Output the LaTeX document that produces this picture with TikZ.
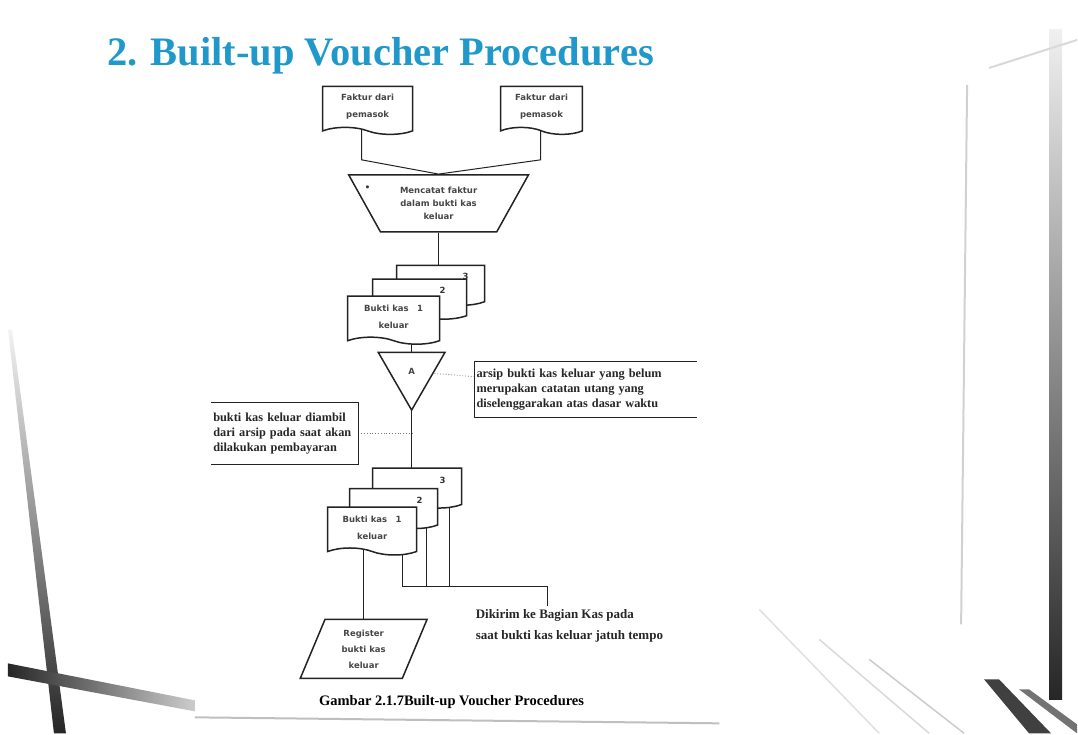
\documentclass[tikz,border=0pt]{standalone}
\usepackage{fontspec}
\setmainfont{Liberation Serif}
\newfontfamily\boxfont{DejaVu Sans}
\usetikzlibrary{positioning,calc,backgrounds,shapes.geometric,shapes.symbols}
\definecolor{vTitle}{RGB}{32,152,202}
\definecolor{vLine} {RGB}{35,35,35}
\definecolor{vNote} {RGB}{120,120,120}
\definecolor{vText} {RGB}{70,70,70}

\begin{document}
\begin{tikzpicture}[x=1pt,y=1pt]

% ---------------------------------------------------------------- styles
\tikzset{
  shp/.style     = {draw=vLine, line width=1.5pt, fill=white, align=center,
                    text=vText, inner sep=1pt,
                    font=\boxfont\bfseries\fontsize{8.5}{17}\selectfont},
  doc/.style     = {shp, tape, tape bend top=none, tape bend bottom=out and in,
                    tape bend height=7pt, minimum width=#1, minimum height=48pt},
  docb/.style    = {doc=#1, minimum height=40pt},
  manual/.style  = {shp, trapezium, shape border rotate=180,
                    trapezium left angle=58, trapezium right angle=58,
                    trapezium stretches=true,
                    minimum width=180pt, minimum height=57pt,
                    font=\boxfont\bfseries\fontsize{8.5}{13}\selectfont},
  merge/.style   = {shp, regular polygon, regular polygon sides=3,
                    shape border rotate=180, minimum size=77pt, inner sep=0pt},
  journal/.style = {shp, trapezium, trapezium left angle=70,
                    trapezium right angle=110, trapezium stretches=true,
                    minimum width=127pt, minimum height=59pt,
                    font=\boxfont\bfseries\fontsize{8.5}{16}\selectfont},
  note/.style    = {align=left, text=black!85, inner xsep=2pt, inner ysep=3pt,
                    font=\bfseries\fontsize{12.3}{15}\selectfont},
  num/.style     = {text=black!80, inner sep=0pt,
                    font=\boxfont\bfseries\fontsize{8.5}{9}\selectfont},
  line/.style    = {draw=vLine, line width=1pt},
  tick/.style    = {draw=vNote, line width=0.8pt, dotted},
}

% ------------------------------------------------------------ slide back
\begin{scope}[on background layer]
  \fill[white] (0,0) rectangle (1078,-734);
  \shade[top color=black!5, bottom color=black!85]
    (8,-330) -- (12,-330) -- (66,-734) -- (54,-734) -- cycle;
  \shade[left color=black!85, right color=black!20]
    (8,-664) -- (195,-701) -- (195,-712) -- (8,-677) -- cycle;
  \draw[black!25, line width=2pt] (195,-718) -- (720,-724);
  \shade[top color=black!6, bottom color=black!85]
    (1050,-30) rectangle (1063,-700);
  \draw[black!18, line width=2pt] (968,-85) -- (962,-625);
  \draw[black!15, line width=2pt] (990,-68) -- (1078,-40);
  \draw[black!12, line width=1.5pt] (760,-610) -- (880,-734);
  \draw[black!15, line width=1.5pt] (820,-640) -- (930,-734);
  \draw[black!20, line width=1.5pt] (870,-660) -- (965,-734);
  \fill[black!75] (985,-680) -- (1000,-680) -- (1052,-734) -- (1030,-734) -- cycle;
  \fill[black!55] (1020,-690) -- (1030,-690) -- (1078,-725) -- (1078,-734) -- cycle;
  \fill[white] (195,-75) rectangle (720,-715);
\end{scope}

% ================================================================ title
\node[font=\bfseries\fontsize{40.5}{44}\selectfont, text=vTitle,
      anchor=base west, inner sep=0pt] (title) at (107,-66)
  {2. Built-up Voucher Procedures};

% ============================================================ invoices
\node[doc=90pt] (fakturL) at (368,-107) {Faktur dari\\pemasok};
\node[doc=82pt] (fakturR) at (542,-107) {Faktur dari\\pemasok};

\node[manual] (catat) at (439,-203.5)
  {Mencatat faktur\\dalam bukti kas\\keluar};
\node[num] (dot) at (368,-188) {\textbullet};

% ------------------------------------------------ first set of copies
\node[docb=88pt] (bkt3) at (441,-282) {};
\node[docb=94pt] (bkt2) at (420,-296) {};
\node[doc=92pt]  (bkt1) at (394,-317) {Bukti kas\quad 1\\keluar};
\node[num] (bkt3n) at (466,-277) {3};
\node[num] (bkt2n) at (443,-291) {2};

% ------------------------------------------------------------- file A
\node[merge] (arsipA) at (412,-372) {A};

\node[note, text width=218pt, minimum height=56pt] (ketA) at (586,-390)
  {arsip bukti kas keluar yang belum\\
   merupakan catatan utang yang\\
   diselenggarakan atas dasar waktu};
\node[note, text width=143pt, minimum height=62pt] (ketB) at (285,-434)
  {bukti kas keluar diambil\\
   dari arsip pada saat akan\\
   dilakukan pembayaran};

% ----------------------------------------------- second set of copies
\node[docb=89pt] (bkl3) at (417.5,-485) {};
\node[docb=88pt] (bkl2) at (394,-505.5) {};
\node[doc=89pt]  (bkl1) at (372.5,-528) {Bukti kas\quad 1\\keluar};
\node[num] (bkl3n) at (443,-481) {3};
\node[num] (bkl2n) at (420,-501) {2};

% ------------------------------------------------------------- outputs
\node[journal] (reg) at (364,-649.5) {Register\\bukti kas\\keluar};
\node[note, anchor=west, font=\bfseries\fontsize{13}{21}\selectfont]
  (kirim) at (474,-626)
  {Dikirim ke Bagian Kas pada\\saat bukti kas keluar jatuh tempo};

\node[font=\bfseries\fontsize{14.5}{16}\selectfont] (capt) at (452,-703)
  {Gambar 2.1.7Built-up Voucher Procedures};

% ------------------------------------------------------------ brackets
\draw[line, line width=1.2pt] (ketA.north east) -- (ketA.north west)
  -- (ketA.south west) -- (ketA.south east);
\draw[line, line width=1.2pt] (ketB.north west) -- (ketB.north east)
  -- (ketB.south east) -- (ketB.south west);

% ------------------------------------------------- routing, behind shapes
\coordinate (kirimJ) at (548,-587);
\begin{scope}[on background layer]
  \draw[line] ([xshift=-6pt]fakturL.center) -- ++(0,-53) -- (catat.north);
  \draw[line] ([xshift=-1pt]fakturR.center) -- ++(0,-53) -- (catat.north);
  \draw[line] (catat.south) -- (catat.south |- bkt3.center);
  \draw[line] (arsipA.center) -- (arsipA.center |- bkt1.center);
  \draw[line] (arsipA.center) -- (arsipA.center |- bkl3.center);
  \draw[tick] ([yshift=13pt]ketA.west) -- (arsipA);
  \draw[tick] (ketB.east) -- (ketB.east -| arsipA.center);
  % copies sent on to the cashier
  \draw[line] ([xshift=30pt]bkl1.center) |- (kirimJ) -- (kirimJ |- kirim.north);
  \draw[line] ([xshift=33pt]bkl2.center) -- ([xshift=33pt]bkl2.center |- kirimJ);
  \draw[line] ([xshift=32.5pt]bkl3.center) -- ([xshift=32.5pt]bkl3.center |- kirimJ);
  \draw[line] (reg.north) -- (reg.north |- bkl1.center);
\end{scope}

\end{tikzpicture}
\end{document}
